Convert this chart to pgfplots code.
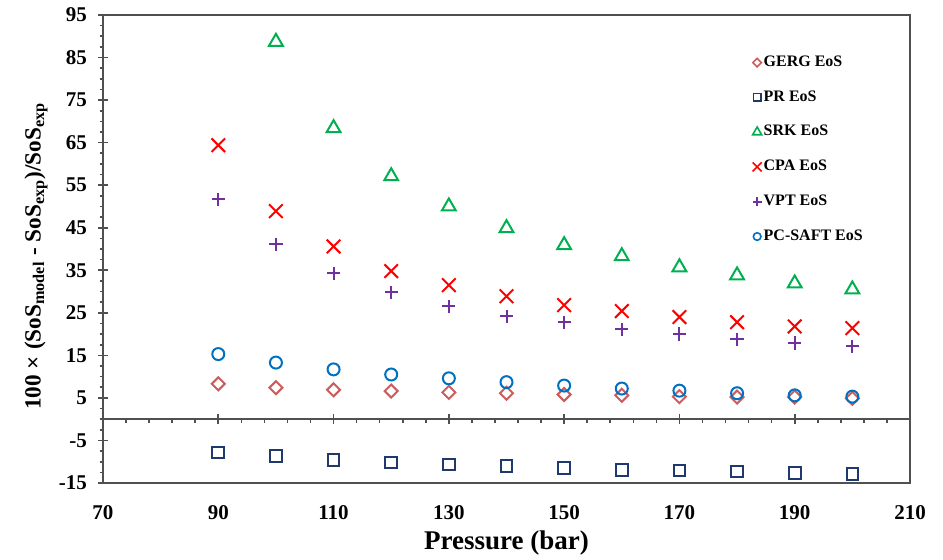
\documentclass[border=0pt]{standalone}
\usepackage{pgfplots}
\pgfplotsset{compat=1.18}
\usepackage{fontspec}
\setmainfont{Liberation Serif}
\definecolor{gerg}{RGB}{205,92,92}
\definecolor{pr}{RGB}{31,56,110}
\definecolor{srk}{RGB}{0,176,80}
\definecolor{cpa}{RGB}{255,0,0}
\definecolor{vpt}{RGB}{112,48,160}
\definecolor{pcsaft}{RGB}{0,112,192}
\definecolor{axisgray}{RGB}{80,80,80}
\begin{document}
\begin{tikzpicture}
\pgfplotsset{
  common/.style={scale only axis, width=403.5pt, height=234pt,
    xmin=70, xmax=210, ymin=-15, ymax=95,
    axis line style={axisgray, line width=0.9pt},
    tick style={axisgray, line width=0.8pt}},
}
\begin{axis}[common,
  xtick={70,90,...,210}, xticklabels={70,90,110,130,150,170,190,210},
  x tick style={draw=none},
  ytick={-15,-5,...,95}, yticklabels={-15,-5,5,15,25,35,45,55,65,75,85,95},
  minor y tick num=3, ytick pos=left, tick align=center,
  major tick length=5pt, minor tick length=1.7pt,
  minor y tick style={xshift=-0.85pt},
  ticklabel style={font=\fontsize{10.5}{12}\selectfont\bfseries},
  xticklabel style={yshift=-5pt},
  yticklabel style={xshift=-2pt},
  xlabel={Pressure (bar)},
  xlabel style={at={(axis description cs:0.5,0)}, anchor=base, yshift=-33.5pt,
    font=\fontsize{13.5}{15}\selectfont\bfseries},
  ylabel={100 × (SoS\textsubscript{model} - SoS\textsubscript{exp})/SoS\textsubscript{exp}},
  ylabel style={at={(axis description cs:0,0.485)}, anchor=center, yshift=33.5pt,
    font=\fontsize{11.6}{13}\selectfont\bfseries},
  legend style={draw=none, fill=none, at={(0.8045,0.918)}, anchor=north west,
    font=\fontsize{8}{9}\selectfont\bfseries, row sep=8.6pt, inner sep=0pt,
    nodes={inner sep=1pt}},
  legend cell align=left,
  legend image code/.code={\draw[#1] plot coordinates {(0.1cm,0cm)};},
]
\addplot[forget plot, only marks, mark=square, mark size=2.3pt, mark options={rotate=45, gerg, line width=1pt}] coordinates {
(90,8.3)(100,7.4)(110,6.9)(120,6.6)(130,6.3)(140,6.1)(150,5.8)(160,5.6)(170,5.3)(180,5.2)(190,5.2)(200,4.9)};
\addplot[forget plot, only marks, mark=square, mark size=2.9pt, mark options={pr, line width=1pt}] coordinates {
(90,-7.8)(100,-8.7)(110,-9.6)(120,-10.2)(130,-10.7)(140,-11.0)(150,-11.5)(160,-11.9)(170,-12.1)(180,-12.3)(190,-12.6)(200,-12.9)};
\addplot[forget plot, only marks, mark=triangle, mark size=4pt, mark options={srk, line width=1pt}] coordinates {
(100,88.7)(110,68.4)(120,57.1)(130,50.0)(140,44.9)(150,40.9)(160,38.3)(170,35.7)(180,33.8)(190,31.9)(200,30.5)};
\addplot[forget plot, only marks, mark=x, mark size=4.8pt, mark options={cpa, line width=1pt}] coordinates {
(90,64.4)(100,48.9)(110,40.6)(120,34.8)(130,31.5)(140,28.9)(150,26.8)(160,25.4)(170,24.0)(180,22.8)(190,21.8)(200,21.4)};
\addplot[forget plot, only marks, mark=+, mark size=3.3pt, mark options={vpt, line width=1pt}] coordinates {
(90,51.7)(100,41.1)(110,34.3)(120,29.8)(130,26.5)(140,24.2)(150,22.8)(160,21.1)(170,20.0)(180,18.8)(190,17.9)(200,17.1)};
\addplot[forget plot, only marks, mark=o, mark size=3pt, mark options={pcsaft, line width=1pt}] coordinates {
(90,15.3)(100,13.3)(110,11.7)(120,10.5)(130,9.6)(140,8.7)(150,7.9)(160,7.2)(170,6.7)(180,6.1)(190,5.6)(200,5.3)};
\addlegendimage{only marks, mark=square, mark size=1.5pt, mark options={rotate=45, gerg, line width=0.8pt}}
\addlegendentry{GERG EoS}
\addlegendimage{only marks, mark=square, mark size=1.9pt, mark options={pr, line width=0.8pt}}
\addlegendentry{PR EoS}
\addlegendimage{only marks, mark=triangle, mark size=2.6pt, mark options={srk, line width=0.8pt}}
\addlegendentry{SRK EoS}
\addlegendimage{only marks, mark=x, mark size=3.2pt, mark options={cpa, line width=0.8pt}}
\addlegendentry{CPA EoS}
\addlegendimage{only marks, mark=+, mark size=2.2pt, mark options={vpt, line width=0.8pt}}
\addlegendentry{VPT EoS}
\addlegendimage{only marks, mark=o, mark size=1.9pt, mark options={pcsaft, line width=0.8pt}}
\addlegendentry{PC-SAFT EoS}
\end{axis}
\begin{axis}[common,
  axis x line=middle, axis y line=none,
  axis line style={-, axisgray, line width=0.9pt},
  xtick={70,90,...,210}, xticklabels={}, minor x tick num=4,
  tick align=center, major tick length=5pt, minor tick length=2pt,
  minor x tick style={yshift=-1pt},
  ytick=\empty,
]
\end{axis}
\pgfresetboundingbox
\path (-51.5pt,-38.5pt) rectangle (420pt,241.5pt);
\end{tikzpicture}
\end{document}
